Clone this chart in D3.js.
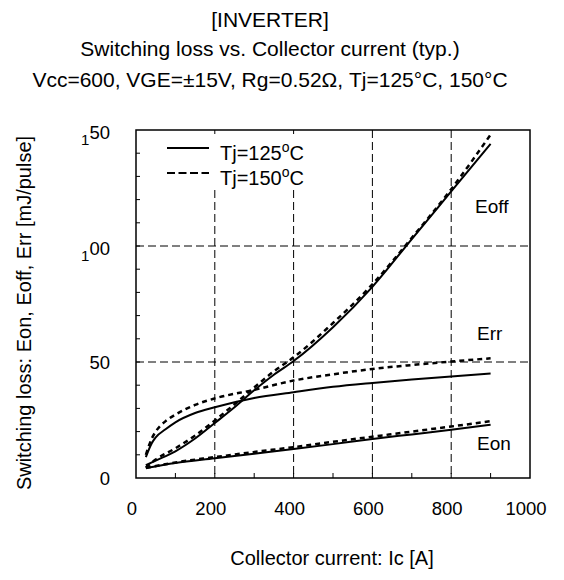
<!DOCTYPE html>
<html>
  <head>
    <meta charset="utf-8" />
    <title>Switching loss vs. Collector current</title>
    <script src="https://d3js.org/d3.v7.min.js"></script>
    <style>
      body { margin: 0; background: #fff; }
      text { font-family: "Liberation Sans", Arial, sans-serif; fill: #000; }
    </style>
  </head>
  <body>
    <svg width="564" height="580"></svg>
    <script>
      // collector current [A]
      var icEon = [25, 100, 200, 300, 400, 500, 600, 700, 800, 900];
      var icCurve = [25, 40, 50, 75, 100, 150, 200, 300, 400, 500, 600, 700, 800, 900];
      var icEoff = [25, 50, 100, 150, 200, 250, 300, 350, 400, 500, 600, 700, 800, 900];

      // switching loss [mJ/pulse]
      var eon125 = [4.3, 6.5, 8.5, 10.5, 12.5, 14.6, 16.8, 18.8, 20.8, 23];
      var eon150 = [4.3, 6.7, 9, 11.2, 13.3, 15.6, 17.8, 20, 22.2, 24.5];
      var eoff125 = [5.5, 7.5, 11.5, 17, 23.7, 30.5, 37.8, 44.5, 50.4, 65, 82.4, 103, 123.5, 144];
      var eoff150 = [4.5, 8, 12.8, 18.3, 24.8, 31.8, 39, 46, 52, 66.8, 83.5, 103.5, 124.5, 148];
      var err125 = [9, 15, 17.5, 21, 24, 28, 30.5, 34.5, 37, 39.3, 41, 42.5, 43.8, 45];
      var err150 = [10, 17, 20, 24.5, 27.3, 31.5, 34.3, 38, 42, 44.7, 47, 48.7, 50.2, 51.6];

      var xTicks = [0, 200, 400, 600, 800, 1000];
      var yTicks = [0, 50, 100, 150];

      var svg = d3.select("svg");

      var x = d3.scaleLinear().domain([0, 1000]).range([136, 530]);
      var y = d3.scaleLinear().domain([0, 150]).range([478, 130]);

      // titles
      var titles = [
        "[INVERTER]",
        "Switching loss vs. Collector current (typ.)",
        "Vcc=600, VGE=\u00b115V, Rg=0.52\u03a9, Tj=125\u00b0C, 150\u00b0C",
      ];
      svg
        .selectAll(".title")
        .data(titles)
        .enter()
        .append("text")
        .attr("class", "title")
        .attr("x", 270)
        .attr("y", function (d, i) {
          return [27, 56, 87][i];
        })
        .attr("text-anchor", "middle")
        .style("font-size", "21px")
        .text(function (d) {
          return d;
        });

      // grid
      var grid = svg.append("g").attr("stroke", "#000").attr("stroke-width", 1).attr("stroke-dasharray", "8,4");
      grid
        .selectAll(".gx")
        .data([200, 400, 600, 800])
        .enter()
        .append("line")
        .attr("x1", (d) => x(d))
        .attr("x2", (d) => x(d))
        .attr("y1", y(150))
        .attr("y2", y(0));
      grid
        .selectAll(".gy")
        .data([50, 100])
        .enter()
        .append("line")
        .attr("x1", x(0))
        .attr("x2", x(1000))
        .attr("y1", (d) => y(d))
        .attr("y2", (d) => y(d));

      // legend box hides the grid behind it
      svg.append("rect").attr("x", 150).attr("y", 134).attr("width", 180).attr("height", 55).attr("fill", "#fff");

      // minor ticks, inside
      var ticks = svg.append("g").attr("stroke", "#000").attr("stroke-width", 1);
      ticks
        .selectAll(".ty")
        .data(d3.range(10, 150, 10))
        .enter()
        .append("line")
        .attr("x1", x(0))
        .attr("x2", x(0) + 4)
        .attr("y1", (d) => y(d))
        .attr("y2", (d) => y(d));
      ticks
        .selectAll(".tx")
        .data(d3.range(100, 1000, 100))
        .enter()
        .append("line")
        .attr("x1", (d) => x(d))
        .attr("x2", (d) => x(d))
        .attr("y1", y(0))
        .attr("y2", y(0) - 5);

      // frame
      svg
        .append("rect")
        .attr("x", x(0))
        .attr("y", y(150))
        .attr("width", x(1000) - x(0))
        .attr("height", y(0) - y(150))
        .attr("fill", "none")
        .attr("stroke", "#000")
        .attr("stroke-width", 1.5);

      // tick labels
      svg
        .selectAll(".xl")
        .data(xTicks)
        .enter()
        .append("text")
        .attr("x", (d) => x(d) - 4)
        .attr("y", 515)
        .attr("text-anchor", "middle")
        .style("font-size", "18.5px")
        .text((d) => d);

      var yl = svg
        .selectAll(".yl")
        .data(yTicks)
        .enter()
        .append("text")
        .attr("x", 110)
        .attr("y", function (d) {
          return d >= 100 ? y(d) + 15 : y(d) + 7;
        })
        .attr("text-anchor", "end")
        .style("font-size", "18.5px");
      yl.each(function (d) {
        var t = d3.select(this);
        if (d >= 100) {
          var s = String(d);
          t.append("tspan").style("font-size", "15px").text(s.slice(0, 1));
          t.append("tspan").attr("dy", -6).text(s.slice(1));
        } else {
          t.text(d);
        }
      });

      // axis labels
      svg
        .append("text")
        .attr("x", 332)
        .attr("y", 565)
        .attr("text-anchor", "middle")
        .style("font-size", "20px")
        .text("Collector current: Ic [A]");
      svg
        .append("text")
        .attr("transform", "translate(31,313) rotate(-90)")
        .attr("text-anchor", "middle")
        .style("font-size", "20px")
        .text("Switching loss: Eon, Eoff, Err [mJ/pulse]");

      // curves
      var line = d3
        .line()
        .x((d) => x(d[0]))
        .y((d) => y(d[1]))
        .curve(d3.curveMonotoneX);

      var series = [
        { ic: icEon, v: eon125, dash: null },
        { ic: icEon, v: eon150, dash: "5,4" },
        { ic: icEoff, v: eoff125, dash: null },
        { ic: icEoff, v: eoff150, dash: "5,4" },
        { ic: icCurve, v: err125, dash: null },
        { ic: icCurve, v: err150, dash: "5,4" },
      ];

      svg
        .selectAll(".curve")
        .data(series)
        .enter()
        .append("path")
        .attr("class", "curve")
        .attr("fill", "none")
        .attr("stroke", "#000")
        .attr("stroke-width", (d) => (d.dash ? 2.5 : 2))
        .attr("stroke-dasharray", (d) => d.dash)
        .attr("d", function (d) {
          return line(d.ic.map((c, i) => [c, d.v[i]]));
        });

      // curve labels
      var labels = [
        { t: "Eoff", x: 475, y: 213 },
        { t: "Err", x: 477, y: 340 },
        { t: "Eon", x: 477, y: 450 },
      ];
      svg
        .selectAll(".cl")
        .data(labels)
        .enter()
        .append("text")
        .attr("x", (d) => d.x)
        .attr("y", (d) => d.y)
        .style("font-size", "19px")
        .text((d) => d.t);

      // legend
      var legend = [
        { t: "125", dash: null, y: 148 },
        { t: "150", dash: "8,3.5", y: 173 },
      ];
      var lg = svg.selectAll(".lg").data(legend).enter().append("g");
      lg.append("line")
        .attr("x1", 167)
        .attr("x2", 209)
        .attr("y1", (d) => d.y)
        .attr("y2", (d) => d.y)
        .attr("stroke", "#000")
        .attr("stroke-width", 2)
        .attr("stroke-dasharray", (d) => d.dash);
      var lt = lg
        .append("text")
        .attr("x", 220)
        .attr("y", (d) => d.y + 12)
        .style("font-size", "20px");
      lt.append("tspan").text((d) => "Tj=" + d.t);
      lt.append("tspan").attr("dy", -8).style("font-size", "14px").text("o");
      lt.append("tspan").attr("dy", 8).text("C");
    </script>
  </body>
</html>
